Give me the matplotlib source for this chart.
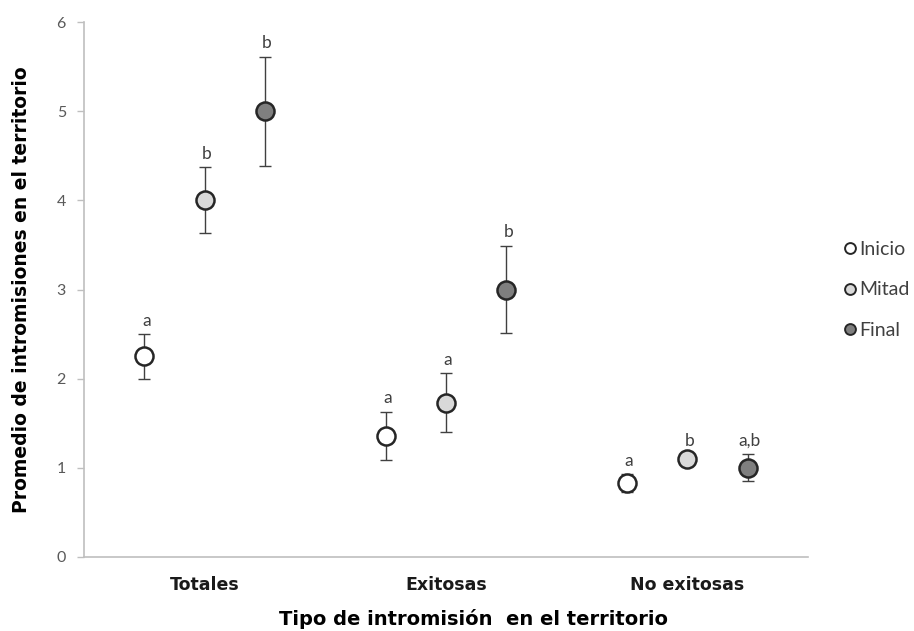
import matplotlib
matplotlib.use("Agg")
import matplotlib.pyplot as plt
import numpy as np

categories = ["Totales", "Exitosas", "No exitosas"]
series = ["Inicio", "Mitad", "Final"]
means = {
    "Inicio": [2.25, 1.36, 0.83],
    "Mitad": [4.00, 1.73, 1.10],
    "Final": [5.00, 3.00, 1.00],
}
errors = {
    "Inicio": [0.25, 0.27, 0.10],
    "Mitad": [0.37, 0.33, 0.05],
    "Final": [0.61, 0.49, 0.15],
}
letters = {
    "Inicio": ["a", "a", "a"],
    "Mitad": ["b", "a", "b"],
    "Final": ["b", "b", "a,b"],
}
yticks = [0, 1, 2, 3, 4, 5, 6]

colors = {"Inicio": "#ffffff", "Mitad": "#d9d9d9", "Final": "#7f7f7f"}
offsets = {"Inicio": -0.25, "Mitad": 0.0, "Final": 0.25}

fig = plt.figure(figsize=(9.14, 6.31), dpi=100)
ax = fig.add_axes([84/914, 1 - 557/631, (808-84)/914, (557-22)/631])

x = np.arange(len(categories)) + 0.5
for s in series:
    xs = x + offsets[s]
    ax.errorbar(xs, means[s], yerr=errors[s], fmt='none', ecolor='#404040',
                elinewidth=1.0, capsize=4.5, capthick=1.0, zorder=2)
    ax.plot(xs, means[s], 'o', markersize=13, markerfacecolor=colors[s],
            markeredgecolor='#262626', markeredgewidth=1.8, linestyle='none',
            label=s, zorder=3)
    for xi, m, e, t in zip(xs, means[s], errors[s], letters[s]):
        ax.annotate(t, (xi, m + e), xytext=(1.5, 6), textcoords='offset points',
                    ha='center', va='baseline', fontsize=12.5, color='#404040',
                    family='Lato')

ax.set_xlim(0, 3)
ax.set_ylim(0, 6)
ax.set_yticks(yticks)
ax.set_yticklabels([str(v) for v in yticks], family='Lato', fontsize=11.5, color='#595959')
ax.set_xticks(x)
ax.set_xticklabels(categories, family='DejaVu Sans', fontweight='bold', fontsize=12.5, color='#1a1a1a')
ax.tick_params(axis='x', length=0, pad=14)
ax.tick_params(axis='y', length=5, width=1, color='#bfbfbf', pad=8)

for sp in ['top', 'right']:
    ax.spines[sp].set_visible(False)
for sp in ['left', 'bottom']:
    ax.spines[sp].set_color('#bfbfbf')
    ax.spines[sp].set_linewidth(1.2)

ax.set_ylabel("Promedio de intromisiones en el territorio", family='DejaVu Sans',
              fontweight='bold', fontsize=13.5, color='#000000')
ax.yaxis.set_label_coords(-53/724, 0.5)
ax.set_xlabel("Tipo de intromisión  en el territorio", family='DejaVu Sans',
              fontweight='bold', fontsize=14, color='#000000')
ax.xaxis.set_label_coords((473-84)/724, -52/535)

leg = fig.legend(loc='center left', bbox_to_anchor=(828/914, 1 - 290/631), frameon=False,
                 handlelength=0.5, handletextpad=0.2, labelspacing=1.2,
                 prop={'family': 'Lato', 'size': 14}, markerscale=0.6)
for h in leg.legend_handles:
    h.set_markeredgewidth(1.4)
for t in leg.get_texts():
    t.set_color('#404040')

fig.savefig("out.png", dpi=100)
